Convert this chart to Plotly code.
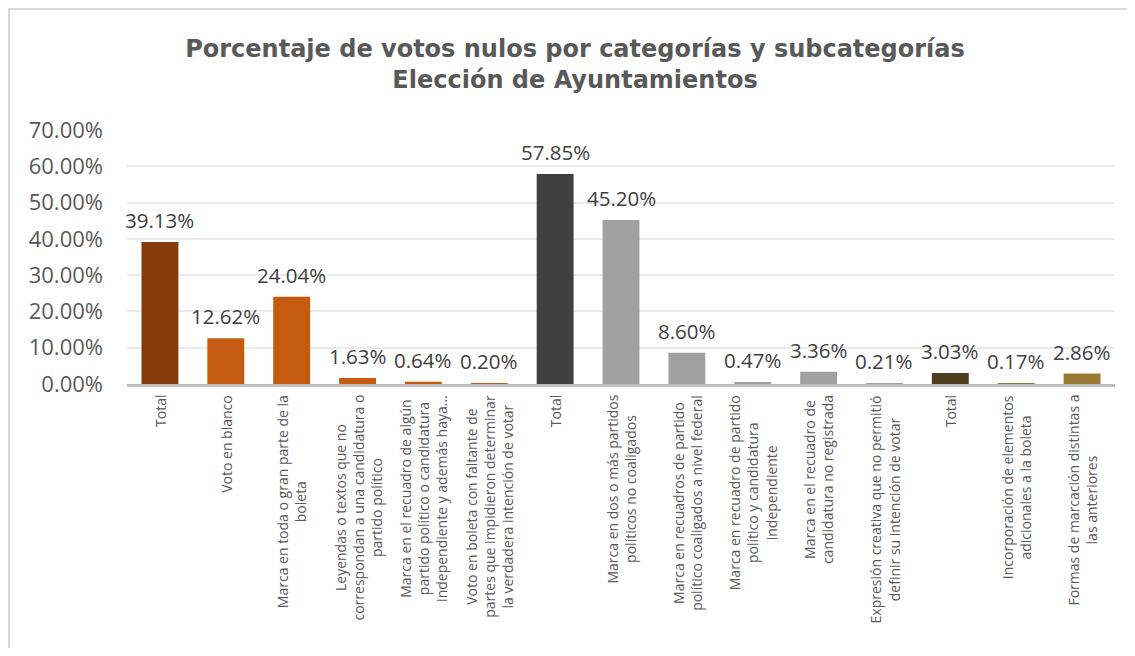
import plotly.graph_objects as go

categories = [
    "Total",
    "Voto en blanco",
    "Marca en toda o gran parte de la<br>boleta",
    "Leyendas o textos que no<br>correspondan a una candidatura o<br>partido político",
    "Marca en el recuadro de algún<br>partido político o candidatura<br>independiente y además haya...",
    "Voto en boleta con faltante de<br>partes que impidieron determinar<br>la verdadera intención de votar",
    "Total",
    "Marca en dos o más partidos<br>políticos no coaligados",
    "Marca en recuadros de partido<br>político coaligados a nivel federal",
    "Marca en recuadro de partido<br>político y candidatura<br>independiente",
    "Marca en el recuadro de<br>candidatura no registrada",
    "Expresión creativa que no permitió<br>definir su intención de votar",
    "Total",
    "Incorporación de elementos<br>adicionales a la boleta",
    "Formas de marcación distintas a<br>las anteriores",
]
values = [0.3913, 0.1262, 0.2404, 0.0163, 0.0064, 0.0020,
          0.5785, 0.4520, 0.0860, 0.0047, 0.0336, 0.0021,
          0.0303, 0.0017, 0.0286]
colors = ["#843C0C", "#C55A11", "#C55A11", "#C55A11", "#C55A11", "#C55A11",
          "#404040", "#A0A0A0", "#A0A0A0", "#A0A0A0", "#A0A0A0", "#A0A0A0",
          "#4D3F1F", "#997A35", "#997A35"]
y_ticks = [0, 0.1, 0.2, 0.3, 0.4, 0.5, 0.6, 0.7]

x_pos = list(range(len(categories)))

# page body has an 8px margin, so the figure is offset by 8px
W, H = 1127, 640
L, R, T, B = 119, 20, 122, 264
pw, ph = W - L - R, H - T - B

fig = go.Figure()
fig.add_trace(go.Bar(
    x=x_pos, y=values,
    marker=dict(color=colors, line=dict(width=0)),
    hoverinfo="skip",
))

def px2x(px):
    return (px - L) / pw

def py2y(py):
    return (H - B - py) / ph

annotations = []
# value labels above bars
for xi, v in zip(x_pos, values):
    annotations.append(dict(
        x=xi, y=v, xref="x", yref="y",
        text=f"{v * 100:.2f}%", showarrow=False,
        xanchor="center", yanchor="bottom", yshift=6,
        font=dict(family="Open Sans", size=20.5, color="#404040"),
    ))
# category labels below axis (rotated, centred lines)
for xi, c in zip(x_pos, categories):
    annotations.append(dict(
        x=xi, y=0, xref="x", yref="paper",
        text=c, showarrow=False, textangle=-90, align="center",
        xanchor="center", yanchor="top", yshift=-9,
        font=dict(family="Open Sans", size=14, color="#595959"),
    ))

fig.update_layout(
    width=W, height=H,
    margin=dict(l=L, r=R, t=T, b=B),
    paper_bgcolor="white", plot_bgcolor="white",
    bargap=0.44,
    showlegend=False,
    title=dict(
        text="Porcentaje de votos nulos por categorías y subcategorías<br>Elección de Ayuntamientos",
        font=dict(family="DejaVu Sans", size=24, color="#595959", weight="bold"),
        x=567 / W, xanchor="center", xref="container",
        y=1 - 49 / H, yanchor="middle", yref="container",
    ),
    xaxis=dict(
        range=[-0.5, len(categories) - 0.5],
        tickmode="array", tickvals=x_pos, ticktext=[""] * len(x_pos),
        showticklabels=False,
        showgrid=False, zeroline=False,
        showline=True, linecolor="#BFBFBF", linewidth=2.5,
        ticks="", automargin=False,
        fixedrange=True,
    ),
    yaxis=dict(
        range=[0, 0.7],
        tickmode="array", tickvals=y_ticks,
        tickformat=".2%",
        tickfont=dict(family="Open Sans", size=22, color="#595959"),
        showgrid=True, gridcolor="#EBEBEB", gridwidth=1.5,
        zeroline=False, showline=False, ticks="",
        ticklabelstandoff=23, automargin=False,
        fixedrange=True,
    ),
    annotations=annotations,
    shapes=[
        dict(type="line", xref="paper", yref="paper",
             x0=px2x(0), x1=px2x(W), y0=py2y(1), y1=py2y(1),
             line=dict(color="#D9D9D9", width=2)),
        dict(type="line", xref="paper", yref="paper",
             x0=px2x(1), x1=px2x(1), y0=py2y(0), y1=py2y(H),
             line=dict(color="#D9D9D9", width=2)),
    ],
)

fig.write_html("out.html", config={"displayModeBar": False})
